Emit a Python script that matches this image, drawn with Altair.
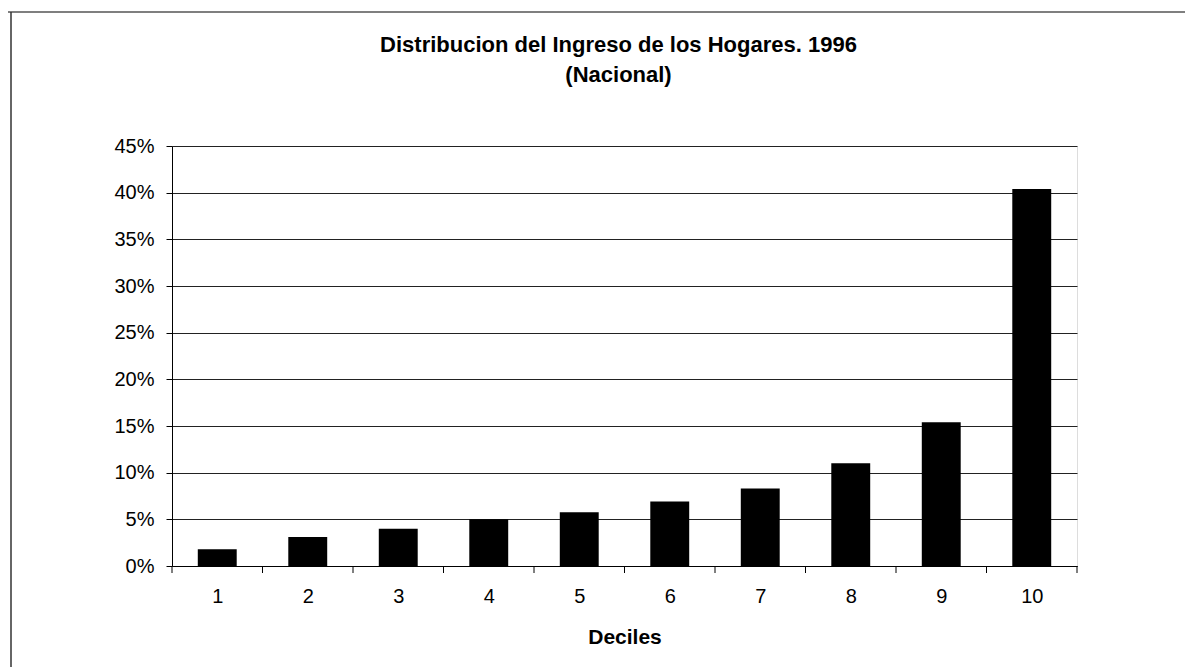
import altair as alt
import pandas as pd

deciles = [1, 2, 3, 4, 5, 6, 7, 8, 9, 10]
shares = [0.018, 0.031, 0.040, 0.050, 0.0575, 0.069, 0.083, 0.110, 0.154, 0.404]
title_lines = ["Distribucion del Ingreso de los Hogares. 1996", "(Nacional)"]
x_title = "Deciles"

df = pd.DataFrame({"decil": deciles, "share": shares})
bounds = pd.DataFrame({"b": [d - 0.5 for d in deciles] + [deciles[-1] + 0.5]})

W, H = 905, 420
FONT = "Liberation Sans"
xscale = alt.Scale(domain=[deciles[0] - 0.5, deciles[-1] + 0.5], nice=False, zero=False)
yscale = alt.Scale(domain=[0, 0.45], nice=False)

bars = alt.Chart(df).transform_calculate(
    x0="datum.decil - 0.215", x1="datum.decil + 0.215"
).mark_rect(color="black").encode(
    x=alt.X("x0:Q", scale=xscale, title=x_title,
            axis=alt.Axis(values=deciles, format="d", tickSize=0, labelPadding=20,
                          labelFontSize=20, labelFont=FONT, labelColor="black",
                          domainColor="black", grid=False,
                          titleFont=FONT, titleFontSize=21, titleFontWeight="bold",
                          titleColor="black", titleY=77, titleBaseline="alphabetic")),
    x2="x1:Q",
    y=alt.Y("share:Q", scale=yscale, title=None,
            axis=alt.Axis(values=[i * 0.05 for i in range(10)], format=".0%",
                          tickSize=6, tickColor="black", labelPadding=12,
                          labelFontSize=20, labelFont=FONT, labelColor="black",
                          domainColor="black", gridColor="#222", gridWidth=1)),
)

ticks = alt.Chart(bounds).mark_rule(color="black", strokeWidth=1).encode(
    x=alt.X("b:Q", scale=xscale),
    y=alt.value(H),
    y2=alt.value(H + 7),
)

frame_df = pd.DataFrame({"a": [0]})
top_line = alt.Chart(frame_df).mark_rule(color="#555", strokeWidth=1.5).encode(
    x=alt.value(-164), x2=alt.value(1030), y=alt.value(-134)
)
left_line = alt.Chart(frame_df).mark_rule(color="#333", strokeWidth=1.5).encode(
    x=alt.value(-161), y=alt.value(-134), y2=alt.value(530)
)

chart = alt.layer(bars, ticks, top_line, left_line).properties(
    width=W, height=H,
    autosize=alt.AutoSizeParams(type="none"),
    padding={"left": 164, "top": 138, "right": 108, "bottom": 101},
    title=alt.TitleParams(title_lines, anchor="middle", frame="group", fontSize=22,
                          font=FONT, fontWeight="bold", color="black", lineHeight=30,
                          offset=-76, dx=-6),
).configure_view(stroke="#777", strokeDash=[3, 2], strokeWidth=1).configure(
    background="white"
)

chart.save("out.html", embed_options={"renderer": "svg", "actions": False})
